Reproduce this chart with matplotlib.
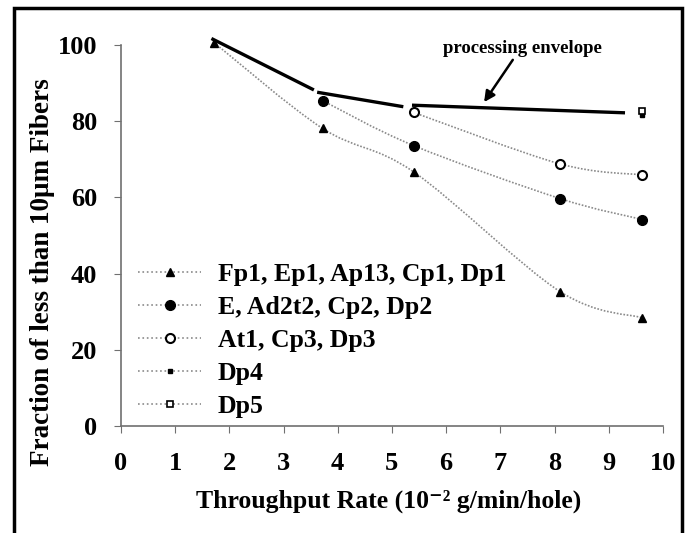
import numpy as np
import matplotlib
matplotlib.use("Agg")
import matplotlib.pyplot as plt
from matplotlib.path import Path
from matplotlib.patches import PathPatch, Rectangle
from matplotlib.lines import Line2D

plt.rcParams["font.family"] = ["Liberation Serif", "DejaVu Serif"]
plt.rcParams["font.weight"] = "bold"

# series data
s1_x = [1.72, 3.72, 5.40, 8.10, 9.62]
s1_y = [100.6, 78.1, 66.7, 35.3, 28.4]
s2_x = [3.72, 5.40, 8.10, 9.62]
s2_y = [85.4, 73.6, 59.7, 54.2]
s3_x = [5.40, 8.10, 9.62]
s3_y = [82.3, 68.8, 65.9]
dp4_x = [9.62]
dp4_y = [81.5]
dp5_x = [9.62]
dp5_y = [82.8]
labels = ["Fp1, Ep1, Ap13, Cp1, Dp1", "E, Ad2t2, Cp2, Dp2",
          "At1, Cp3, Dp3", "Dp4", "Dp5"]
# processing envelope, three separate segments
env_x = [[1.67, 3.56], [3.62, 5.21], [5.37, 9.30]]
env_y = [[101.7, 88.2], [87.6, 83.8], [84.2, 82.2]]

GREY = "#8a8a8a"


def smooth_path(xs, ys, ax):
    """Catmull-Rom style bezier through the points (like a spreadsheet smoothed line)."""
    pts = np.column_stack([xs, ys]).astype(float)
    verts = [pts[0]]; codes = [Path.MOVETO]
    n = len(pts)
    for i in range(n - 1):
        p0 = pts[i - 1] if i > 0 else pts[i]
        p1, p2 = pts[i], pts[i + 1]
        p3 = pts[i + 2] if i + 2 < n else pts[i + 1]
        c1 = p1 + (p2 - p0) / 6.0
        c2 = p2 - (p3 - p1) / 6.0
        verts += [c1, c2, p2]; codes += [Path.CURVE4] * 3
    patch = PathPatch(Path(verts, codes), fill=False, edgecolor=GREY,
                      lw=1.2, linestyle=(0, (1, 1)), clip_on=False)
    ax.add_patch(patch)


fig = plt.figure(figsize=(6.87, 5.33), dpi=100)
ax = fig.add_axes([0.176, 0.2007, 0.789, 0.7149])

for xs, ys in [(s1_x, s1_y), (s2_x, s2_y), (s3_x, s3_y)]:
    smooth_path(xs, ys, ax)

ax.plot(s1_x, s1_y, ls="none", marker="^", ms=6, color="black", clip_on=False)
ax.plot(s2_x, s2_y, ls="none", marker="o", ms=7, color="black", clip_on=False)
ax.plot(s3_x, s3_y, ls="none", marker="o", ms=6.5, mfc="white", mec="black",
        mew=1.5, clip_on=False)
ax.plot(dp4_x, dp4_y, ls="none", marker="s", ms=3.5, color="black", clip_on=False)
ax.plot(dp5_x, dp5_y, ls="none", marker="s", ms=4, mfc="white", mec="black",
        mew=1.2, clip_on=False)

for xs, ys in zip(env_x, env_y):
    ax.plot(xs, ys, color="black", lw=2.4, solid_capstyle="butt", clip_on=False)

ax.text(7.40, 99.2, "processing envelope", ha="center", va="center",
        fontsize=13.5, fontweight="bold")
ax.annotate("", xy=(6.70, 85.0), xytext=(7.23, 96.1),
            arrowprops=dict(arrowstyle="-|>", color="black", lw=1.8,
                            mutation_scale=16, shrinkA=0, shrinkB=0))

ax.set_xlim(0, 10)
ax.set_ylim(0, 100)
ax.set_xticks(range(0, 11))
ax.set_yticks(range(0, 101, 20))
for sp in ("top", "right"):
    ax.spines[sp].set_visible(False)
for sp in ("left", "bottom"):
    ax.spines[sp].set_color("#707070")
    ax.spines[sp].set_linewidth(1.2)
ax.tick_params(axis="both", direction="out", length=5, color="#707070",
               labelsize=19)
ax.tick_params(axis="x", pad=14)
ax.tick_params(axis="y", pad=12)
for lab in ax.get_xticklabels() + ax.get_yticklabels():
    lab.set_fontweight("bold")

ax.set_xlabel("Throughput Rate (10\u207b\u00b2 g/min/hole)", fontsize=18.5,
              fontweight="bold")
ax.xaxis.set_label_coords(0.493, -0.168)
ax.set_ylabel("Fraction of less than 10\u03bcm Fibers", fontsize=19.5,
              fontweight="bold")
ax.yaxis.set_label_coords(-0.122, 0.405)

handles = [
    Line2D([], [], color=GREY, ls=":", lw=1.2, marker="^", ms=6, mfc="black", mec="black"),
    Line2D([], [], color=GREY, ls=":", lw=1.2, marker="o", ms=7, mfc="black", mec="black"),
    Line2D([], [], color=GREY, ls=":", lw=1.2, marker="o", ms=6.5, mfc="white", mec="black", mew=1.5),
    Line2D([], [], color=GREY, ls=":", lw=1.2, marker="s", ms=3.5, mfc="black", mec="black"),
    Line2D([], [], color=GREY, ls=":", lw=1.2, marker="s", ms=4, mfc="white", mec="black", mew=1.2),
]
leg = ax.legend(handles, labels, loc="lower left", bbox_to_anchor=(0.013, -0.005),
                frameon=False, fontsize=18.5, labelspacing=0.39,
                handlelength=2.45, handletextpad=0.65, borderaxespad=0.0)
for t in leg.get_texts():
    t.set_fontweight("bold")

fig.patches.append(Rectangle((14 / 687, -0.02), 668 / 687, 1 - 8 / 533 + 0.02,
                             transform=fig.transFigure, fill=False,
                             edgecolor="black", lw=2.5))

fig.savefig("out.png", dpi=100)
